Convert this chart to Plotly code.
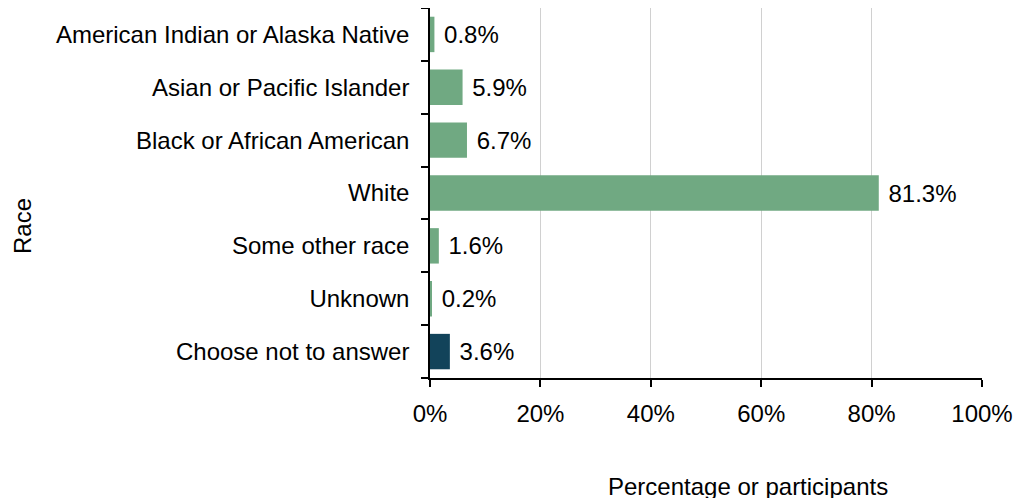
import plotly.graph_objects as go

categories = ["American Indian or Alaska Native", "Asian or Pacific Islander",
              "Black or African American", "White", "Some other race",
              "Unknown", "Choose not to answer"]
values = [0.8, 5.9, 6.7, 81.3, 1.6, 0.2, 3.6]
colors = ["#70A982"] * 6 + ["#12435A"]
x_ticks = [0, 20, 40, 60, 80, 100]
x_tick_labels = ["0%", "20%", "40%", "60%", "80%", "100%"]

FONT = "Liberation Sans, Arial, sans-serif"
FS = 24

# page body has an 8px margin, so figure coords = screenshot coords - 8
L, R, T, B = 422, 974, 0, 370
PW, PH = R - L, B - T

fig = go.Figure(go.Bar(
    x=values, y=categories, orientation="h",
    marker=dict(color=colors, line=dict(width=0)),
    text=[f" {v:.1f}%" for v in values],
    textposition="outside", cliponaxis=False,
    textfont=dict(family=FONT, size=FS, color="black"),
))

fig.update_layout(
    width=1027, height=498,
    margin=dict(l=L, r=1027 - R, t=T, b=498 - B, pad=0),
    paper_bgcolor="white", plot_bgcolor="white",
    bargap=0.33, showlegend=False,
    font=dict(family=FONT, size=FS, color="black"),
    xaxis=dict(range=[0, 100], tickvals=x_ticks, ticktext=x_tick_labels,
               showgrid=True, gridcolor="#D0D0D0", gridwidth=1,
               showline=True, linecolor="black", linewidth=1.5,
               ticks="outside", ticklen=7, tickcolor="black", tickwidth=1.5,
               ticklabelstandoff=6, zeroline=False, fixedrange=True),
    yaxis=dict(categoryorder="array", categoryarray=categories[::-1],
               showline=True, linecolor="black", linewidth=1.5,
               ticks="outside", ticklen=7, tickcolor="black", tickwidth=1.5,
               tickson="boundaries", ticklabelstandoff=14, showgrid=False,
               fixedrange=True),
    annotations=[
        dict(text="Percentage or participants", xref="paper", yref="paper",
             x=(740 - L) / PW, y=-(478 - B) / PH, showarrow=False,
             xanchor="center", yanchor="middle", font=dict(size=FS)),
        dict(text="Race", xref="paper", yref="paper",
             x=-(L - 14) / PW, y=(B - 218) / PH, showarrow=False,
             textangle=-90, xanchor="center", yanchor="middle",
             font=dict(size=FS)),
    ],
)

fig.write_html("out.html")
